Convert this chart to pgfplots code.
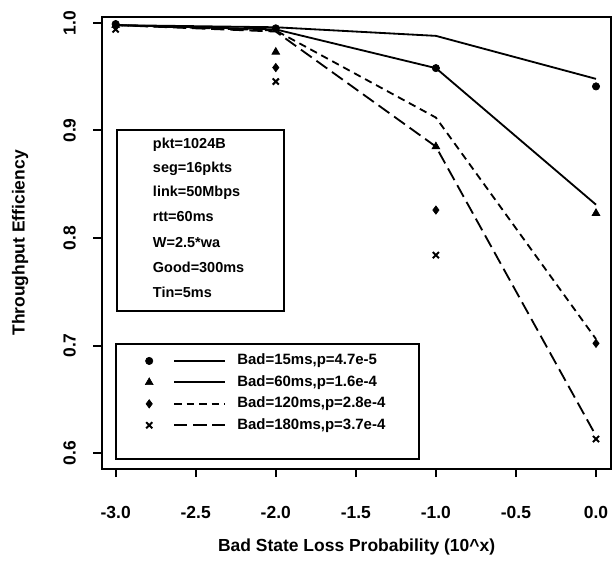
\documentclass[border=0pt]{standalone}
\usepackage{fontspec}
\setmainfont{Liberation Sans}
\usepackage{pgfplots}
\pgfplotsset{compat=1.18}

% legend row: mark, then a sample of the model line
\pgfplotsset{
  legimg/.style={legend image code/.code={%
    \draw[mark=none, line width=1.1pt, #1] (15pt,0pt) -- (45.6pt,0pt);
    \draw[only marks] plot coordinates {(0pt,0pt)};
    \path[draw=none, fill=none] (0pt,0pt) -- (52pt,0pt);}},
}

\begin{document}
\begin{tikzpicture}
\begin{axis}[
  scale only axis, width=306.6pt, height=271.8pt,
  xmin=-3.087, xmax=0.0966, ymin=0.5853, ymax=1.0056,
  xtick={-3,-2.5,-2,-1.5,-1,-0.5,0},
  ytick={0.6,0.7,0.8,0.9,1.0},
  tick pos=left, tick align=outside, major tick length=5pt,
  axis line style={line width=1.2pt},
  major tick style={line width=1.2pt, black},
  xticklabel style={font=\fontsize{10.5}{12}\selectfont\bfseries, yshift=-14pt,
    /pgf/number format/.cd, fixed, fixed zerofill, precision=1, assume math mode=true},
  yticklabel style={font=\fontsize{10.5}{12}\selectfont\bfseries, rotate=90, anchor=south,
    /pgf/number format/.cd, fixed, fixed zerofill, precision=1, assume math mode=true},
  yticklabel shift=7pt,
  xlabel={Bad State Loss Probability (10\textasciicircum x)},
  ylabel={Throughput Efficiency},
  label style={font=\fontsize{10.5}{12}\selectfont\bfseries},
  xlabel style={at={(axis description cs:0.5,-0.172)}, anchor=center},
  ylabel style={at={(axis description cs:-0.160,0.5)}, anchor=center},
  clip=false,
  legend style={at={(axis cs:-2.848,0.697)}, anchor=north west, draw=none, fill=none,
    font=\fontsize{9}{10}\selectfont\bfseries, row sep=2.6pt,
    nodes={inner sep=1pt, text height=6.5pt, text depth=1.8pt}},
  legend cell align=left,
]
% model curves
\addplot[forget plot, black, line width=1.1pt] coordinates {(-3,0.998) (-2,0.996) (-1,0.988) (0,0.948)};
\addplot[forget plot, black, line width=1.1pt] coordinates {(-3,0.998) (-2,0.994) (-1,0.958) (0,0.831)};
\addplot[forget plot, black, line width=1.1pt, dash pattern=on 4.5pt off 3pt] coordinates {(-3,0.998) (-2,0.993) (-1,0.912) (0,0.706)};
\addplot[forget plot, black, line width=1.1pt, dash pattern=on 8pt off 3.5pt] coordinates {(-3,0.998) (-2,0.992) (-1,0.885) (0,0.616)};

% simulation points
\addplot[only marks, mark=*, mark size=2.2pt, black, legimg={solid}]
  coordinates {(-3,0.999) (-2,0.995) (-1,0.958) (0,0.941)};
\addlegendentry{Bad=15ms,p=4.7e-5}
\addplot[only marks, mark=triangle*, mark size=2.7pt, black, legimg={solid}]
  coordinates {(-3,0.998) (-2,0.973) (-1,0.885) (0,0.823)};
\addlegendentry{Bad=60ms,p=1.6e-4}
\addplot[only marks, mark=diamond*, mark size=2.5pt, black, legimg={dash pattern=on 4.5pt off 3pt}]
  coordinates {(-3,0.997) (-2,0.9585) (-1,0.826) (0,0.702)};
\addlegendentry{Bad=120ms,p=2.8e-4}
\addplot[only marks, mark=x, mark size=2.6pt, black, line width=1.2pt, legimg={dash pattern=on 8pt off 3.5pt}]
  coordinates {(-3,0.994) (-2,0.9455) (-1,0.784) (0,0.613)};
\addlegendentry{Bad=180ms,p=3.7e-4}

% legend frame
\draw[line width=1.2pt] (axis cs:-3.0,0.7013) rectangle (axis cs:-1.106,0.5946);

% parameter box
\draw[line width=1.2pt] (axis cs:-2.994,0.9007) rectangle (axis cs:-1.947,0.7319);
\begin{scope}[every node/.style={anchor=west, inner sep=0pt, font=\fontsize{8.7}{10}\selectfont\bfseries}]
\node at (axis cs:-2.769,0.8868) {pkt=1024B};
\node at (axis cs:-2.769,0.8646) {seg=16pkts};
\node at (axis cs:-2.769,0.8423) {link=50Mbps};
\node at (axis cs:-2.769,0.8200) {rtt=60ms};
\node at (axis cs:-2.769,0.7960) {W=2.5*wa};
\node at (axis cs:-2.769,0.7727) {Good=300ms};
\node at (axis cs:-2.769,0.7495) {Tin=5ms};
\end{scope}

\coordinate (bbsw) at (rel axis cs:-0.1996,-0.2185);
\coordinate (bbne) at (rel axis cs:1.003,1.0375);
\end{axis}
\pgfresetboundingbox
\useasboundingbox (bbsw) rectangle (bbne);
\end{tikzpicture}
\end{document}
